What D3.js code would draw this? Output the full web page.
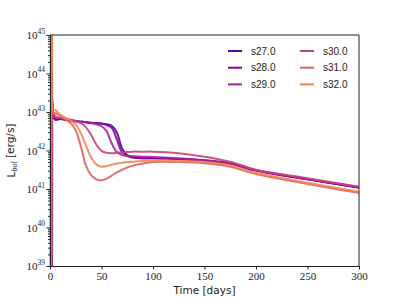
<!DOCTYPE html>
<html>
<head>
<meta charset="utf-8">
<script src="https://cdn.jsdelivr.net/npm/d3@7"></script>
<style>
  body { margin: 0; background: #fff; }
  svg { display: block; }
</style>
</head>
<body>
<svg id="chart"></svg>
<script>
// model names and the days the light curves are sampled on
const models = ["s27.0", "s28.0", "s29.0", "s30.0", "s31.0", "s32.0"];
const days = [0, 1.2, 2.0, 3.0, 5, 10, 15, 20, 25, 30, 35, 40, 45, 50, 55, 60, 65, 70, 75, 80, 90, 100, 125, 150, 175, 200, 250, 300];

// log10 of L_bol [erg/s]
const s27 = [36, 36.5, 47, 42.95, 42.80, 42.82, 42.80, 42.78, 42.76, 42.75, 42.74, 42.72, 42.71, 42.70, 42.68, 42.64, 42.46, 42.05, 41.88, 41.83, 41.80, 41.80, 41.78, 41.74, 41.66, 41.48, 41.25, 41.04];
const s28 = [36, 36.5, 47, 42.95, 42.81, 42.82, 42.80, 42.78, 42.76, 42.75, 42.74, 42.72, 42.71, 42.70, 42.66, 42.58, 42.28, 41.95, 41.86, 41.82, 41.80, 41.80, 41.78, 41.74, 41.66, 41.48, 41.25, 41.03];
const s29 = [36, 36.5, 47, 42.97, 42.86, 42.84, 42.82, 42.79, 42.77, 42.75, 42.73, 42.71, 42.68, 42.63, 42.50, 42.18, 41.96, 41.88, 41.86, 41.85, 41.84, 41.83, 41.80, 41.75, 41.67, 41.49, 41.26, 41.05];
const s30 = [36, 38, 47, 43.0, 42.88, 42.85, 42.82, 42.79, 42.76, 42.71, 42.60, 42.40, 42.15, 41.99, 41.94, 41.93, 41.94, 41.95, 41.96, 41.97, 41.97, 41.97, 41.93, 41.84, 41.71, 41.50, 41.28, 41.06];
const s31 = [36, 39.5, 47, 43.0, 42.97, 42.90, 42.81, 42.71, 42.52, 42.10, 41.60, 41.36, 41.25, 41.23, 41.27, 41.35, 41.43, 41.50, 41.56, 41.60, 41.66, 41.70, 41.70, 41.67, 41.58, 41.39, 41.13, 40.90];
const s32 = [36, 47, 44.5, 43.05, 43.05, 42.93, 42.85, 42.78, 42.67, 42.45, 42.12, 41.82, 41.64, 41.58, 41.60, 41.63, 41.66, 41.68, 41.70, 41.71, 41.73, 41.74, 41.73, 41.70, 41.61, 41.42, 41.16, 40.93];
const series = [s27, s28, s29, s30, s31, s32];

const xTicks = [0, 50, 100, 150, 200, 250, 300];
const yExponents = [39, 40, 41, 42, 43, 44, 45];

const width = 399, height = 299;
const margin = {left: 50, right: 40, top: 35, bottom: 33};

const svg = d3.select("#chart").attr("width", width).attr("height", height);

const x = d3.scaleLinear().domain([0, 300]).range([margin.left, width - margin.right]);
const y = d3.scaleLog().domain([1e39, 1e45]).range([height - margin.bottom, margin.top]);

const colors = models.map((m, i) => d3.interpolatePlasma(0.15 + i * 0.11));

svg.append("clipPath").attr("id", "plotclip")
  .append("rect")
  .attr("x", x(0) - 1).attr("y", y(1e45))
  .attr("width", x(300) - x(0) + 1).attr("height", y(1e39) - y(1e45));

// curves
const line = d3.line()
  .x((d, i) => x(days[i]))
  .y(d => y(Math.pow(10, d)))
  .curve(d3.curveCatmullRom.alpha(0.5));

svg.append("g").attr("clip-path", "url(#plotclip)")
  .selectAll("path")
  .data(series)
  .join("path")
  .attr("d", line)
  .attr("fill", "none")
  .attr("stroke", (d, i) => colors[i])
  .attr("stroke-width", 2)
  .attr("stroke-opacity", 0.9);

// axes
const xAxis = d3.axisBottom(x).tickValues(xTicks).tickSize(3.5).tickSizeOuter(0).tickPadding(3);
const gx = svg.append("g").attr("transform", `translate(0,${y(1e39)})`).call(xAxis);
gx.selectAll("text").attr("font-family", "Liberation Serif, DejaVu Serif, serif").attr("font-size", 11).attr("fill", "#222");

let minor = [];
yExponents.slice(0, -1).forEach(e => { for (let k = 2; k <= 9; k++) minor.push(k * Math.pow(10, e)); });
const gyMinor = svg.append("g").attr("transform", `translate(${x(0)},0)`)
  .call(d3.axisLeft(y).tickValues(minor).tickSize(2).tickFormat(""));
gyMinor.select(".domain").remove();

const gy = svg.append("g").attr("transform", `translate(${x(0)},0)`)
  .call(d3.axisLeft(y).tickValues(yExponents.map(e => Math.pow(10, e))).tickSize(3.5).tickSizeOuter(0).tickFormat(""));

gy.selectAll(".tick").append("text")
  .attr("x", -5).attr("dy", "0.35em")
  .attr("text-anchor", "end")
  .attr("fill", "#222")
  .attr("font-family", "Liberation Serif, DejaVu Serif, serif")
  .attr("font-size", 11)
  .each(function(d) {
    const t = d3.select(this);
    t.append("tspan").text("10");
    t.append("tspan").attr("font-size", 7.5).attr("dy", "-0.75em").text(Math.round(Math.log10(d)));
  });

svg.selectAll(".domain, .tick line").attr("stroke", "#222");

// frame (left spine drawn under the curves' spike, so only top/right/bottom here)
svg.append("path")
  .attr("d", `M${x(0)},${y(1e45)}H${x(300)}V${y(1e39)}`)
  .attr("fill", "none").attr("stroke", "#222").attr("stroke-width", 1);

// axis labels
svg.append("text")
  .attr("x", (x(0) + x(300)) / 2).attr("y", 294)
  .attr("text-anchor", "middle")
  .attr("font-family", "DejaVu Sans, sans-serif").attr("font-size", 10.5)
  .attr("fill", "#222")
  .text("Time [days]");

const ylab = svg.append("text")
  .attr("transform", `translate(15,${(y(1e39) + y(1e45)) / 2}) rotate(-90)`)
  .attr("text-anchor", "middle")
  .attr("font-family", "DejaVu Sans, sans-serif").attr("font-size", 10.5)
  .attr("fill", "#222");
ylab.append("tspan").text("L");
ylab.append("tspan").attr("font-family", "Liberation Serif, DejaVu Serif, serif").attr("font-style", "italic")
  .attr("font-size", 8).attr("dy", "0.3em").text("bol");
ylab.append("tspan").attr("dy", "-0.3em").text(" [erg/s]");

// legend, two columns of three
const legend = svg.append("g")
  .selectAll("g")
  .data(models)
  .join("g")
  .attr("transform", (d, i) => `translate(${228 + Math.floor(i / 3) * 72},${51 + (i % 3) * 16.7})`);

legend.append("line")
  .attr("x1", 0).attr("x2", 14)
  .attr("stroke", (d, i) => colors[i])
  .attr("stroke-width", 2);

legend.append("text")
  .attr("x", 23).attr("dy", "0.35em")
  .attr("font-family", "Liberation Sans, Arial, sans-serif").attr("font-size", 10)
  .attr("fill", "#222")
  .text(d => d);
</script>
</body>
</html>
